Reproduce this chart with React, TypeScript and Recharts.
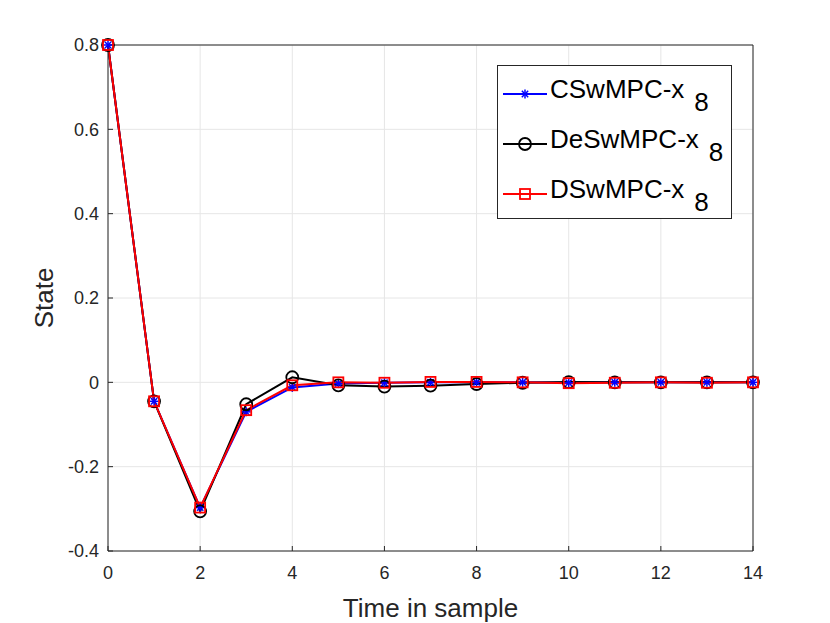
import React from "react";
import {
  LineChart,
  Line,
  XAxis,
  YAxis,
  CartesianGrid,
  ReferenceLine,
} from "recharts";

const timeSteps = [0, 1, 2, 3, 4, 5, 6, 7, 8, 9, 10, 11, 12, 13, 14];
const csValues = [0.8, -0.045, -0.297, -0.07, -0.012, -0.003, -0.001, 0.0, 0.0, 0.0, -0.001, 0.0, 0.0, 0.0, 0.0];
const deValues = [0.8, -0.045, -0.306, -0.052, 0.012, -0.007, -0.01, -0.008, -0.004, -0.001, 0.0005, 0.0, 0.0, 0.0, 0.0];
const dsValues = [0.8, -0.045, -0.297, -0.066, -0.007, 0.0, -0.001, 0.001, 0.001, 0.0, -0.002, -0.001, 0.0, -0.001, 0.0];
const xTicks = [0, 2, 4, 6, 8, 10, 12, 14];
const yTicks = [-0.4, -0.2, 0, 0.2, 0.4, 0.6, 0.8];
const seriesNames = ["CSwMPC-x", "DeSwMPC-x", "DSwMPC-x"];

const data = timeSteps.map((t, i) => ({
  t,
  cs: csValues[i],
  de: deValues[i],
  ds: dsValues[i],
}));

const FONT = "'Liberation Sans', Arial, Helvetica, sans-serif";
const AXIS = "#262626";

const AxisTick = ({ x, y, payload, textAnchor, verticalAnchor }: any) => (
  <text
    x={x}
    y={y}
    dy={verticalAnchor === "start" ? "0.71em" : "0.355em"}
    textAnchor={textAnchor}
    fill={AXIS}
    fontSize={18}
    fontFamily={FONT}
  >
    {payload.value}
  </text>
);

const Star = ({ cx, cy, color }: any) => {
  if (cx == null || cy == null) return null;
  const r = 4.5;
  const d = r * 0.707;
  return (
    <g stroke={color} strokeWidth={1.5}>
      <line x1={cx - r} y1={cy} x2={cx + r} y2={cy} />
      <line x1={cx} y1={cy - r} x2={cx} y2={cy + r} />
      <line x1={cx - d} y1={cy - d} x2={cx + d} y2={cy + d} />
      <line x1={cx - d} y1={cy + d} x2={cx + d} y2={cy - d} />
    </g>
  );
};

const Circle = ({ cx, cy, color }: any) => {
  if (cx == null || cy == null) return null;
  return <circle cx={cx} cy={cy} r={6} fill="none" stroke={color} strokeWidth={1.8} />;
};

const Square = ({ cx, cy, color }: any) => {
  if (cx == null || cy == null) return null;
  return (
    <rect x={cx - 5} y={cy - 5} width={10} height={10} fill="none" stroke={color} strokeWidth={1.8} />
  );
};

const markers = [Star, Circle, Square];
const colors = ["#0000ff", "#000000", "#ff0000"];

const XLabel = ({ viewBox }: any) => (
  <text
    x={viewBox.x + viewBox.width / 2}
    y={viewBox.y + viewBox.height}
    textAnchor="middle"
    fill={AXIS}
    fontSize={26}
    fontFamily={FONT}
  >
    Time in sample
  </text>
);

const YLabel = ({ viewBox }: any) => {
  const x = viewBox.x + 5;
  const y = viewBox.y + viewBox.height / 2;
  return (
    <text
      x={x}
      y={y}
      transform={`rotate(-90 ${x} ${y})`}
      textAnchor="middle"
      fill={AXIS}
      fontSize={26}
      fontFamily={FONT}
    >
      State
    </text>
  );
};

const LegendBox = () => (
  <div
    style={{
      position: "absolute",
      left: 497,
      top: 65,
      width: 235,
      height: 154,
      border: "1.5px solid #262626",
      background: "#fff",
      fontFamily: FONT,
      boxSizing: "border-box",
      paddingTop: 3,
    }}
  >
    {seriesNames.map((name, i) => {
      const M = markers[i];
      return (
        <div key={name} style={{ position: "relative", height: 50 }}>
          <svg width={52} height={20} style={{ position: "absolute", left: 3, top: 15 }}>
            <line x1={2} y1={10} x2={46} y2={10} stroke={colors[i]} strokeWidth={2} />
            <M cx={24} cy={10} color={colors[i]} />
          </svg>
          <span
            style={{
              position: "absolute",
              left: 52,
              top: 5,
              fontSize: 26,
              lineHeight: "30px",
              color: "#000",
              whiteSpace: "nowrap",
            }}
          >
            {name}
            <span style={{ position: "relative", top: 13, marginLeft: 10 }}>8</span>
          </span>
        </div>
      );
    })}
  </div>
);

export default function App() {
  return (
    <div style={{ position: "absolute", left: 0, top: 0, width: 830, height: 623, background: "#fff" }}>
      <LineChart
        width={830}
        height={623}
        data={data}
        margin={{ top: 45, right: 77, bottom: 6, left: 48 }}
      >
        <CartesianGrid stroke="#e6e6e6" strokeWidth={1} />
        <XAxis
          dataKey="t"
          type="number"
          domain={[0, 14]}
          ticks={xTicks}
          height={66}
          stroke={AXIS}
          tickSize={-5}
          tickMargin={20}
          tick={<AxisTick />}
          label={<XLabel />}
        />
        <XAxis
          xAxisId="top"
          orientation="top"
          dataKey="t"
          type="number"
          domain={[0, 14]}
          ticks={xTicks}
          height={0}
          stroke={AXIS}
          tickSize={-5}
          tick={() => null}
        />
        <YAxis
          type="number"
          domain={[-0.4, 0.8]}
          ticks={yTicks}
          width={60}
          stroke={AXIS}
          tickSize={-5}
          tickMargin={14}
          tick={<AxisTick />}
          label={<YLabel />}
        />
        <YAxis
          yAxisId="right"
          orientation="right"
          type="number"
          domain={[-0.4, 0.8]}
          ticks={yTicks}
          width={0}
          stroke={AXIS}
          tickSize={-5}
          tick={() => null}
        />
        <ReferenceLine y={0.8} stroke={AXIS} strokeWidth={1} />
        <ReferenceLine x={14} stroke={AXIS} strokeWidth={1} />
        <Line
          xAxisId="top"
          yAxisId="right"
          dataKey="cs"
          stroke="none"
          dot={false}
          activeDot={false}
          legendType="none"
          isAnimationActive={false}
        />
        <Line
          dataKey="cs"
          stroke={colors[0]}
          strokeWidth={2}
          isAnimationActive={false}
          dot={(p: any) => <Star key={`s${p.index}`} cx={p.cx} cy={p.cy} color={colors[0]} />}
        />
        <Line
          dataKey="de"
          stroke={colors[1]}
          strokeWidth={2}
          isAnimationActive={false}
          dot={(p: any) => <Circle key={`c${p.index}`} cx={p.cx} cy={p.cy} color={colors[1]} />}
        />
        <Line
          dataKey="ds"
          stroke={colors[2]}
          strokeWidth={2}
          isAnimationActive={false}
          dot={(p: any) => <Square key={`q${p.index}`} cx={p.cx} cy={p.cy} color={colors[2]} />}
        />
      </LineChart>
      <LegendBox />
    </div>
  );
}
